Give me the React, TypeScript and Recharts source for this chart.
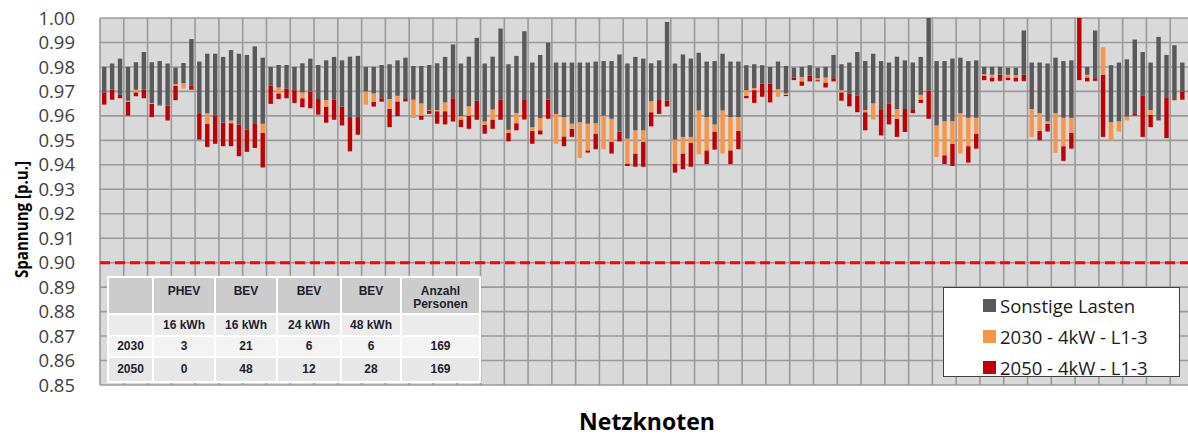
import { BarChart, Bar, XAxis, YAxis, CartesianGrid, ReferenceLine, Legend } from 'recharts'

// Spannungsband je Netzknoten [p.u.]: oberes Ende, mit sonstigen Lasten, 2030, 2050
const U_MAX = [
  0.980, 0.9814, 0.9834, 0.980, 0.9819, 0.9861, 0.9819, 0.9824, 0.9814, 0.9797,
  0.9816, 0.9914, 0.9822, 0.9854, 0.9854, 0.9841, 0.9869, 0.9854, 0.9849, 0.9884,
  0.9838, 0.980, 0.9808, 0.9808, 0.980, 0.9815, 0.9834, 0.9808, 0.9827, 0.9841,
  0.9827, 0.9842, 0.9845, 0.980, 0.980, 0.9808, 0.9811, 0.9827, 0.9838, 0.9804,
  0.9804, 0.9808, 0.9815, 0.9841, 0.9892, 0.9814, 0.9842, 0.9919, 0.9814, 0.9842,
  0.9957, 0.9811, 0.9845, 0.9946, 0.9818, 0.9849, 0.9899, 0.9818, 0.9818, 0.9818,
  0.9818, 0.9818, 0.9822, 0.9824, 0.9824, 0.9851, 0.9814, 0.9841, 0.9834, 0.9815,
  0.9827, 0.9984, 0.9814, 0.9851, 0.9834, 0.9858, 0.9822, 0.9824, 0.9854, 0.9822,
  0.9822, 0.9807, 0.9811, 0.9807, 0.980, 0.9822, 0.9804, 0.9797, 0.980, 0.9807,
  0.9797, 0.980, 0.9849, 0.9811, 0.9818, 0.9861, 0.9824, 0.9854, 0.9824, 0.9818,
  0.9842, 0.9827, 0.9818, 0.9841, 1.000, 0.9824, 0.9824, 0.9834, 0.9838, 0.9824,
  0.9827, 0.980, 0.980, 0.980, 0.9797, 0.9797, 0.9949, 0.9818, 0.9818, 0.9814,
  0.9838, 0.9824, 0.9827, 1.000, 0.980, 0.9949, 0.9881, 0.9807, 0.9818, 0.9831,
  0.9912, 0.9861, 0.9818, 0.9923, 0.9849, 0.9889, 0.9818, 0.980,
]

const U_SONSTIGE = [
  0.9696, 0.9707, 0.9686, 0.9662, 0.9707, 0.9707, 0.9653, 0.9645, 0.9642, 0.973,
  0.9734, 0.9723, 0.9611, 0.9611, 0.9601, 0.9572, 0.9581, 0.9564, 0.9543, 0.957,
  0.9568, 0.9723, 0.9716, 0.9712, 0.9705, 0.9696, 0.9699, 0.9669, 0.9665, 0.9666,
  0.9638, 0.9595, 0.9595, 0.970, 0.9692, 0.9672, 0.9669, 0.9682, 0.9669, 0.9666,
  0.9651, 0.9624, 0.9624, 0.9655, 0.9672, 0.9599, 0.9639, 0.9662, 0.9577, 0.9626,
  0.9666, 0.9543, 0.9612, 0.9665, 0.9554, 0.9591, 0.9666, 0.9608, 0.9595, 0.9568,
  0.9574, 0.9568, 0.957, 0.9601, 0.9588, 0.9536, 0.9507, 0.9541, 0.9541, 0.966,
  0.9665, 0.9662, 0.9503, 0.9514, 0.9514, 0.9622, 0.9595, 0.9565, 0.9622, 0.9595,
  0.9595, 0.9705, 0.9714, 0.9732, 0.9732, 0.9709, 0.9692, 0.9757, 0.9759, 0.9764,
  0.9754, 0.9757, 0.9754, 0.9705, 0.9692, 0.9682, 0.9624, 0.9651, 0.9624, 0.9649,
  0.9628, 0.9628, 0.9624, 0.9686, 0.9703, 0.9561, 0.9578, 0.9578, 0.9611, 0.9592,
  0.9592, 0.977, 0.9768, 0.9768, 0.9768, 0.9766, 0.9768, 0.9628, 0.9611, 0.9578,
  0.9611, 0.9592, 0.9592, 1.000, 0.9768, 0.9754, 0.9881, 0.9574, 0.9578, 0.9597,
  0.9608, 0.9682, 0.9624, 0.9581, 0.9676, 0.9665, 0.970, 0.9696,
]

const U_2030 = [
  0.9696, 0.9707, 0.9686, 0.9658, 0.9696, 0.9707, 0.9649, 0.9643, 0.9642, 0.9722,
  0.9711, 0.9723, 0.9611, 0.9568, 0.9601, 0.9572, 0.957, 0.9564, 0.9543, 0.957,
  0.953, 0.9723, 0.9692, 0.9712, 0.9705, 0.9672, 0.9699, 0.9669, 0.9638, 0.9666,
  0.9638, 0.9595, 0.9595, 0.9646, 0.9658, 0.9672, 0.9628, 0.9659, 0.9669, 0.9591,
  0.9601, 0.9622, 0.9619, 0.9619, 0.9672, 0.9585, 0.9601, 0.9662, 0.9564, 0.9585,
  0.9666, 0.953, 0.957, 0.9665, 0.9538, 0.9541, 0.9666, 0.9486, 0.9516, 0.9547,
  0.9428, 0.9459, 0.9527, 0.9464, 0.9493, 0.9536, 0.9405, 0.9446, 0.9493, 0.9615,
  0.9665, 0.9662, 0.9405, 0.9446, 0.9489, 0.9443, 0.9459, 0.9536, 0.9446, 0.9459,
  0.9538, 0.9682, 0.9705, 0.9732, 0.9732, 0.9678, 0.9686, 0.9757, 0.9741, 0.9764,
  0.9746, 0.9736, 0.9754, 0.9696, 0.9692, 0.9682, 0.9615, 0.9585, 0.9624, 0.9649,
  0.9588, 0.9628, 0.9624, 0.9665, 0.9703, 0.9432, 0.9439, 0.9486, 0.9446, 0.9476,
  0.9527, 0.9764, 0.9757, 0.9768, 0.9757, 0.9757, 0.9768, 0.9514, 0.9538, 0.9568,
  0.9449, 0.9476, 0.953, 1.000, 0.9757, 0.9754, 0.9768, 0.950, 0.9536, 0.9581,
  0.9608, 0.9682, 0.9604, 0.9581, 0.9676, 0.9662, 0.970, 0.9696,
]

const U_2050 = [
  0.9646, 0.9666, 0.9672, 0.9601, 0.968, 0.9672, 0.9595, 0.9641, 0.9581, 0.9664,
  0.9711, 0.9707, 0.9503, 0.9473, 0.9486, 0.9476, 0.9476, 0.9435, 0.9453, 0.9469,
  0.9389, 0.9649, 0.9669, 0.9672, 0.9653, 0.9635, 0.9631, 0.9605, 0.9572, 0.9584,
  0.9561, 0.9455, 0.9523, 0.9646, 0.9638, 0.9658, 0.9554, 0.9599, 0.9659, 0.9591,
  0.9584, 0.9608, 0.9568, 0.9565, 0.9577, 0.9554, 0.9547, 0.9584, 0.9527, 0.9547,
  0.9584, 0.9496, 0.9541, 0.9585, 0.9486, 0.9524, 0.9588, 0.9486, 0.9476, 0.9514,
  0.9428, 0.945, 0.9464, 0.9464, 0.9446, 0.9496, 0.9395, 0.9392, 0.9392, 0.9557,
  0.9608, 0.9638, 0.9368, 0.9382, 0.9392, 0.9443, 0.9403, 0.9462, 0.9446, 0.9403,
  0.9464, 0.9672, 0.9653, 0.9678, 0.9655, 0.9678, 0.9681, 0.9746, 0.9723, 0.9741,
  0.9741, 0.9716, 0.9741, 0.9662, 0.9639, 0.9615, 0.9541, 0.9585, 0.952, 0.9565,
  0.9514, 0.9534, 0.9611, 0.9653, 0.9588, 0.9432, 0.9403, 0.9395, 0.9446, 0.9409,
  0.9466, 0.9746, 0.9741, 0.9743, 0.9746, 0.9741, 0.9743, 0.9514, 0.950, 0.9536,
  0.9449, 0.9416, 0.9466, 0.9746, 0.9741, 0.9743, 0.9514, 0.950, 0.9536, 0.9581,
  0.9601, 0.9514, 0.9554, 0.9581, 0.9509, 0.9662, 0.9666, 0.9646,
]

const Y_TICKS = [0.85, 0.86, 0.87, 0.88, 0.89, 0.90, 0.91, 0.92, 0.93, 0.94, 0.95, 0.96, 0.97, 0.98, 0.99, 1.0]
const GRID_EVERY = 3

const SERIES = [
  { key: 'grey', name: 'Sonstige Lasten', color: '#595959' },
  { key: 'orange', name: '2030 - 4kW - L1-3', color: '#f79646' },
  { key: 'red', name: '2050 - 4kW - L1-3', color: '#c00000' },
]

const TABLE_HEAD = ['', 'PHEV', 'BEV', 'BEV', 'BEV', 'Anzahl Personen']
const TABLE_CAP = ['', '16 kWh', '16 kWh', '24 kWh', '48 kWh', '']
const TABLE_ROWS = [
  ['2030', '3', '21', '6', '6', '169'],
  ['2050', '0', '48', '12', '28', '169'],
]
const TABLE_COLS = [43, 60, 60, 62, 58, 77]

// stacked from 0: invisible base up to the 2050 value, then red, orange, grey
const rows = U_MAX.map((top, i) => ({
  node: i + 1,
  base: U_2050[i],
  red: U_2030[i] - U_2050[i],
  orange: U_SONSTIGE[i] - U_2030[i],
  grey: top - U_SONSTIGE[i],
}))

const FONT = '"Open Sans", "Liberation Sans", sans-serif'

function YTitle({ viewBox }: any) {
  const cy = viewBox.y + viewBox.height / 2 + 18
  return (
    <text
      x={21}
      y={cy}
      transform={`rotate(-90 21 ${cy})`}
      textAnchor="middle"
      dominantBaseline="central"
      fontFamily={FONT}
      fontWeight={700}
      fontSize={17}
      textLength={117}
      lengthAdjust="spacingAndGlyphs"
      fill="#000"
    >
      Spannung [p.u.]
    </text>
  )
}

function LegendBox() {
  return (
    <div
      style={{
        width: 237,
        height: 90,
        boxSizing: 'border-box',
        border: '1px solid #404040',
        background: '#fff',
        paddingTop: 2,
        paddingLeft: 39,
        fontFamily: FONT,
        fontSize: 18.5,
        color: '#1a1a1a',
      }}
    >
      {SERIES.map(s => (
        <div key={s.key} style={{ display: 'flex', alignItems: 'center', height: 31, whiteSpace: 'nowrap' }}>
          <span style={{ width: 13, height: 13, background: s.color, marginRight: 4, flex: 'none' }} />
          <span>{s.name}</span>
        </div>
      ))}
    </div>
  )
}

const cell = (bg: string): React.CSSProperties => ({ background: bg, padding: 0, textAlign: 'center' })

function CarTable() {
  return (
    <table
      style={{
        position: 'absolute',
        left: 107,
        top: 276,
        borderCollapse: 'separate',
        borderSpacing: 2,
        background: '#fff',
        fontFamily: '"Liberation Sans", Arial, sans-serif',
        fontWeight: 700,
        fontSize: 12,
        lineHeight: '13px',
        color: '#1e1e2e',
        tableLayout: 'fixed',
      }}
    >
      <colgroup>
        {TABLE_COLS.map((w, i) => <col key={i} style={{ width: w }} />)}
      </colgroup>
      <tbody>
        <tr style={{ height: 35 }}>
          {TABLE_HEAD.map((t, i) => (
            <td key={i} style={{ ...cell('#cccccc'), verticalAlign: 'top', paddingTop: 7 }}>{t}</td>
          ))}
        </tr>
        <tr style={{ height: 20 }}>
          {TABLE_CAP.map((t, i) => <td key={i} style={cell('#ebebeb')}>{t}</td>)}
        </tr>
        {TABLE_ROWS.map((r, j) => (
          <tr key={j} style={{ height: j === 0 ? 19 : 23 }}>
            {r.map((t, i) => <td key={i} style={cell(j === 0 ? '#f3f3f3' : '#e7e7e7')}>{t}</td>)}
          </tr>
        ))}
      </tbody>
    </table>
  )
}

export default function App() {
  return (
    <div style={{ position: 'fixed', left: 0, top: 0, width: 1188, height: 437, overflow: 'hidden', background: '#fff' }}>
      <BarChart width={1194} height={437} data={rows} margin={{ top: 18, right: 0, bottom: 0, left: 0 }} barSize={4.4}>
        <CartesianGrid
          fill="#d9d9d9"
          stroke="#9a9a9a"
          strokeWidth={1.6}
          verticalCoordinatesGenerator={({ offset }: any) => {
            const step = offset.width / rows.length
            const pts: number[] = []
            for (let i = 0; i <= rows.length; i += GRID_EVERY) pts.push(offset.left + i * step)
            return pts
          }}
        />
        <XAxis
          dataKey="node"
          height={52}
          tick={false}
          tickLine={false}
          axisLine={false}
          label={{ value: 'Netzknoten', position: 'insideBottom', offset: 7, fill: '#000', fontSize: 23, fontWeight: 700, fontFamily: FONT }}
        />
        <YAxis
          width={100}
          domain={[0.85, 1]}
          ticks={Y_TICKS}
          allowDataOverflow
          interval={0}
          tickFormatter={(v: number) => v.toFixed(2)}
          tick={{ fill: '#404040', fontSize: 18.5, fontFamily: FONT }}
          tickSize={0}
          tickMargin={25}
          axisLine={false}
          label={<YTitle />}
        />
        <ReferenceLine y={0.9} stroke="#ff0000" strokeWidth={3} strokeDasharray="10 5" />
        <Bar dataKey="base" stackId="u" fill="rgba(0,0,0,0)" legendType="none" isAnimationActive={false} />
        <Bar dataKey="red" stackId="u" fill="#c00000" isAnimationActive={false} />
        <Bar dataKey="orange" stackId="u" fill="#f79646" isAnimationActive={false} />
        <Bar dataKey="grey" stackId="u" fill="#595959" isAnimationActive={false} />
        <Legend
          layout="vertical"
          align="center"
          verticalAlign="middle"
          wrapperStyle={{ left: 943, top: 287, width: 237, height: 90 }}
          content={() => <LegendBox />}
        />
      </BarChart>
      <CarTable />
    </div>
  )
}
